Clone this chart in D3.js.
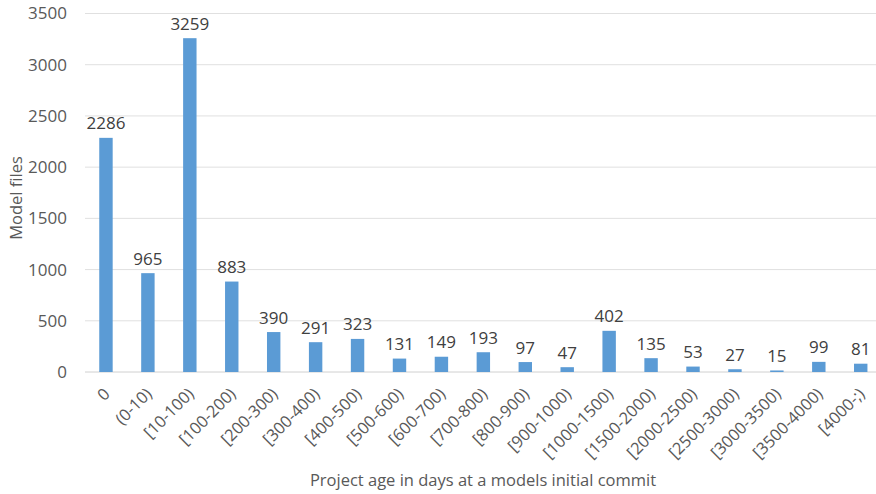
<!DOCTYPE html>
<html>
<head>
<meta charset="utf-8">
<script src="https://cdn.jsdelivr.net/npm/d3@7/dist/d3.min.js"></script>
<style>
  html, body { margin: 0; padding: 0; background: #fff; }
  svg { display: block; font-family: "Open Sans", "Liberation Sans", sans-serif; }
</style>
</head>
<body>
<svg id="chart" width="876" height="494"></svg>
<script>
// Age buckets of a project when a model file was first committed
const categories = ["0", "(0-10)", "[10-100)", "[100-200)", "[200-300)", "[300-400)", "[400-500)",
  "[500-600)", "[600-700)", "[700-800)", "[800-900)", "[900-1000)", "[1000-1500)", "[1500-2000)",
  "[2000-2500)", "[2500-3000)", "[3000-3500)", "[3500-4000)", "[4000-;)"];
const modelFiles = [2286, 965, 3259, 883, 390, 291, 323, 131, 149, 193, 97, 47, 402, 135, 53, 27, 15, 99, 81];
const yTicks = [0, 500, 1000, 1500, 2000, 2500, 3000, 3500];

const svg = d3.select("#chart");
const plotLeft = 85, plotRight = 881.7, plotTop = 13.5, plotBottom = 372;

const x = d3.scaleBand().domain(categories).range([plotLeft, plotRight]).paddingInner(0.68).paddingOuter(0.34);
const y = d3.scaleLinear().domain([0, 3500]).range([plotBottom, plotTop]);

// horizontal gridlines
svg.append("g")
  .selectAll("line").data(yTicks).join("line")
  .attr("x1", plotLeft).attr("x2", 876)
  .attr("y1", d => y(d)).attr("y2", d => y(d))
  .attr("stroke", d => d === 0 ? "#d0d0d0" : "#e0e0e0")
  .attr("stroke-width", 1);

// y axis tick labels
const yAxis = svg.append("g")
  .attr("transform", `translate(${plotLeft - 18},0)`)
  .call(d3.axisLeft(y).tickValues(yTicks).tickSize(0).tickPadding(0).tickFormat(d3.format("d")));
yAxis.select(".domain").remove();
yAxis.selectAll("text")
  .attr("fill", "#595959").style("font-size", "17px")
  .style("font-family", "'Open Sans', sans-serif");

// bars
svg.append("g")
  .selectAll("rect").data(modelFiles).join("rect")
  .attr("x", (d, i) => x(categories[i]))
  .attr("y", d => y(d))
  .attr("width", x.bandwidth())
  .attr("height", d => y(0) - y(d))
  .attr("fill", "#5b9bd5");

// value labels
svg.append("g")
  .selectAll("text").data(modelFiles).join("text")
  .attr("x", (d, i) => x(categories[i]) + x.bandwidth() / 2)
  .attr("y", d => y(d) - 8.5)
  .attr("text-anchor", "middle")
  .attr("fill", "#404040")
  .style("font-size", "17px")
  .text(d => d);

// x category labels, rotated
const xAxis = svg.append("g")
  .attr("transform", `translate(0,${plotBottom})`)
  .call(d3.axisBottom(x).tickSize(0).tickPadding(0));
xAxis.select(".domain").remove();
xAxis.selectAll("text")
  .attr("fill", "#595959")
  .style("font-size", "16.5px")
  .style("font-family", "'Open Sans', sans-serif")
  .attr("text-anchor", "end")
  .attr("dy", null)
  .attr("transform", "translate(5,23) rotate(-45)");

// axis titles
svg.append("text")
  .attr("x", 483).attr("y", 486)
  .attr("text-anchor", "middle")
  .attr("fill", "#595959")
  .style("font-size", "16.5px")
  .text("Project age in days at a models initial commit");

svg.append("text")
  .attr("transform", "translate(22,198) rotate(-90)")
  .attr("text-anchor", "middle")
  .attr("fill", "#595959")
  .style("font-size", "16.5px")
  .text("Model files");
</script>
</body>
</html>
